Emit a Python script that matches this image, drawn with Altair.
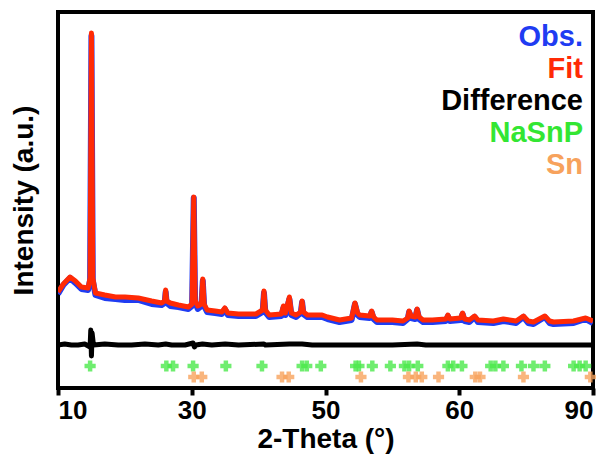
import altair as alt
import pandas as pd

# ---- data ----
two_theta = [10.0, 10.8, 11.8, 12.6, 13.5, 14.5, 14.8, 15.0, 15.2, 15.6, 17.0, 18.6, 20.0, 22.0,
             24.0, 25.5, 25.95, 26.1, 26.25, 26.8, 28.0, 29.5, 30.05, 30.3, 30.5, 30.9, 31.45, 31.65,
             31.85, 32.3, 33.5, 34.5, 34.95, 35.4, 37.0, 39.6, 40.6, 40.8, 41.0, 41.6, 43.4, 43.7,
             44.0, 44.6, 44.9, 45.6, 46.3, 46.5, 46.7, 47.3, 49.5, 50.3, 52.1, 53.9, 54.4, 54.8,
             55.1, 56.6, 56.9, 57.2, 57.7, 60.0, 61.6, 62.3, 62.5, 62.8, 63.4, 63.7, 64.0, 64.6,
             66.0, 68.0, 68.3, 68.6, 70.2, 70.5, 70.8, 71.5, 72.3, 72.8, 75.1, 76.6, 78.5, 79.6,
             80.3, 81.1, 82.8, 83.5, 84.1, 87.1, 88.9, 90.0]
fit = [96, 104, 111, 107, 101, 100, 110, 355, 110, 95, 93, 91, 91, 90,
       87, 85, 87, 98, 87, 85, 83, 81, 84, 191, 88, 82, 84, 109,
       84, 78, 77, 76, 80, 75, 74, 74, 78, 97, 78, 73, 74, 82,
       75, 91, 75, 73, 76, 87, 76, 73, 73, 71, 68, 70, 85, 75,
       73, 72, 77, 71, 68, 68, 67, 70, 77, 72, 71, 79, 71, 68,
       68, 69, 73, 69, 70, 75, 69, 68, 72, 68, 67, 69, 67, 72,
       67, 66, 72, 67, 66, 67, 70, 67]
obs = [94, 103, 110, 105, 99, 98, 108, 352, 108, 93, 90, 89, 88, 88,
       84, 83, 85, 96, 85, 82, 81, 79, 82, 190, 86, 79, 82, 107,
       82, 76, 75, 74, 79, 73, 72, 72, 76, 95, 76, 71, 72, 80,
       73, 89, 73, 71, 75, 86, 74, 71, 71, 69, 66, 68, 84, 73,
       71, 70, 76, 69, 66, 66, 65, 69, 76, 70, 69, 78, 69, 66,
       66, 67, 72, 67, 68, 74, 67, 66, 71, 66, 65, 67, 65, 71,
       65, 64, 71, 65, 64, 65, 69, 65]

diff_x = [10.0, 11.0, 12.0, 13.0, 14.0, 14.8, 14.9, 15.0, 15.1, 15.3, 17.0, 19.0, 21.0, 23.0,
          25.0, 26.1, 27.0, 29.0, 30.2, 30.4, 30.6, 31.6, 33.0, 35.0, 37.0, 40.8, 41.0, 44.6,
          46.5, 48.0, 50.0, 55.0, 60.0, 63.7, 65.0, 70.0, 75.0, 80.0, 85.0, 90.0]
diff_y = [43, 44, 43, 43, 44, 41, 58, 32, 55, 43, 44, 43, 43, 44,
          43, 44, 43, 43, 45, 41, 43, 44, 43, 44, 43, 44, 43, 44,
          44, 43, 43, 43, 43, 44, 43, 43, 43, 43, 43, 43]

nasnp_pos = [14.8, 26.2, 27.2, 30.2, 35.1, 40.5, 46.5, 47.2, 49.3, 54.5, 55.0, 57.0, 59.7,
             61.8, 62.5, 63.8, 68.3, 69.1, 70.4, 74.7, 75.4, 76.6, 79.3, 81.1, 82.8, 87.1,
             88.0, 88.9]
sn_pos = [30.3, 31.5, 43.5, 44.5, 55.3, 62.4, 63.5, 64.4, 66.9, 72.4, 73.1, 79.6, 89.6]
nasnp_level = 22
sn_level = 11

x_ticks = [10, 30, 50, 70, 90]
x_tick_labels = ["10", "30", "50", "60", "90"]

legend_labels = ["Obs.", "Fit", "Difference", "NaSnP", "Sn"]
legend_colors = ["#1f3cf2", "#ff2a05", "#000000", "#33e633", "#f7a25c"]

FONT = "Liberation Sans"

# ---- tables ----
curve = pd.DataFrame({"x": two_theta, "fit": fit, "obs": obs})
diff = pd.DataFrame({"x": diff_x, "y": diff_y})
ticks_df = pd.DataFrame(
    {"x": nasnp_pos + sn_pos,
     "y": [nasnp_level] * len(nasnp_pos) + [sn_level] * len(sn_pos),
     "phase": ["NaSnP"] * len(nasnp_pos) + ["Sn"] * len(sn_pos)}
)

label_expr = " : ".join(
    [f"datum.value == {v} ? '{t}'" for v, t in zip(x_ticks, x_tick_labels)]
) + " : datum.label"

xscale = alt.Scale(domain=[10, 90], nice=False, zero=False)
yscale = alt.Scale(domain=[0, 376], nice=False, zero=False)

xenc = alt.X(
    "x:Q", scale=xscale,
    axis=alt.Axis(values=x_ticks, labelExpr=label_expr, title="2-Theta (°)",
                  grid=False, domain=False, tickColor="black", tickWidth=4, tickSize=7,
                  labelPadding=2, labelFont=FONT, labelFontSize=26, labelFontWeight="bold",
                  labelColor="black", titleFont=FONT, titleFontSize=28, titleFontWeight="bold",
                  titleColor="black", titlePadding=2),
)
yaxis = alt.Axis(title="Intensity (a.u.)", labels=False, ticks=False, domain=False, grid=False,
                 titleFont=FONT, titleFontSize=28, titleFontWeight="bold", titleColor="black",
                 titlePadding=20)

obs_line = alt.Chart(curve).mark_line(color="#1f3cf2", strokeWidth=6, clip=True,
                                      strokeJoin="round").encode(
    x=xenc, y=alt.Y("obs:Q", scale=yscale, axis=yaxis))
fit_line = alt.Chart(curve).mark_line(color="#ff2a05", strokeWidth=5, clip=True,
                                      strokeJoin="round").encode(
    x=alt.X("x:Q", scale=xscale), y=alt.Y("fit:Q", scale=yscale))
diff_line = alt.Chart(diff).mark_line(color="black", strokeWidth=5, clip=True,
                                      strokeJoin="round").encode(
    x=alt.X("x:Q", scale=xscale), y=alt.Y("y:Q", scale=yscale))
crosses = alt.Chart(ticks_df).mark_point(shape="cross", filled=True, size=125, opacity=0.8).encode(
    x=alt.X("x:Q", scale=xscale), y=alt.Y("y:Q", scale=yscale),
    color=alt.Color("phase:N", scale=alt.Scale(domain=["NaSnP", "Sn"],
                                               range=["#4be84b", "#f7a25c"]), legend=None))

legend_layers = []
for i, (lab, col) in enumerate(zip(legend_labels, legend_colors)):
    legend_layers.append(
        alt.Chart(pd.DataFrame({"t": [lab]})).mark_text(
            align="right", baseline="alphabetic", font=FONT, fontSize=29, fontWeight="bold",
            color=col).encode(text="t:N", x=alt.value(525), y=alt.value(34 + 32 * i))
    )

chart = alt.layer(obs_line, fit_line, diff_line, crosses, *legend_layers).properties(
    width=535, height=376,
    padding={"left": 58, "top": 12, "right": 19, "bottom": 75},
    autosize=alt.AutoSizeParams(type="none"),
).configure(background="white").configure_view(stroke="black", strokeWidth=4)

chart.save("out.html", embed_options={"renderer": "svg", "actions": False})
